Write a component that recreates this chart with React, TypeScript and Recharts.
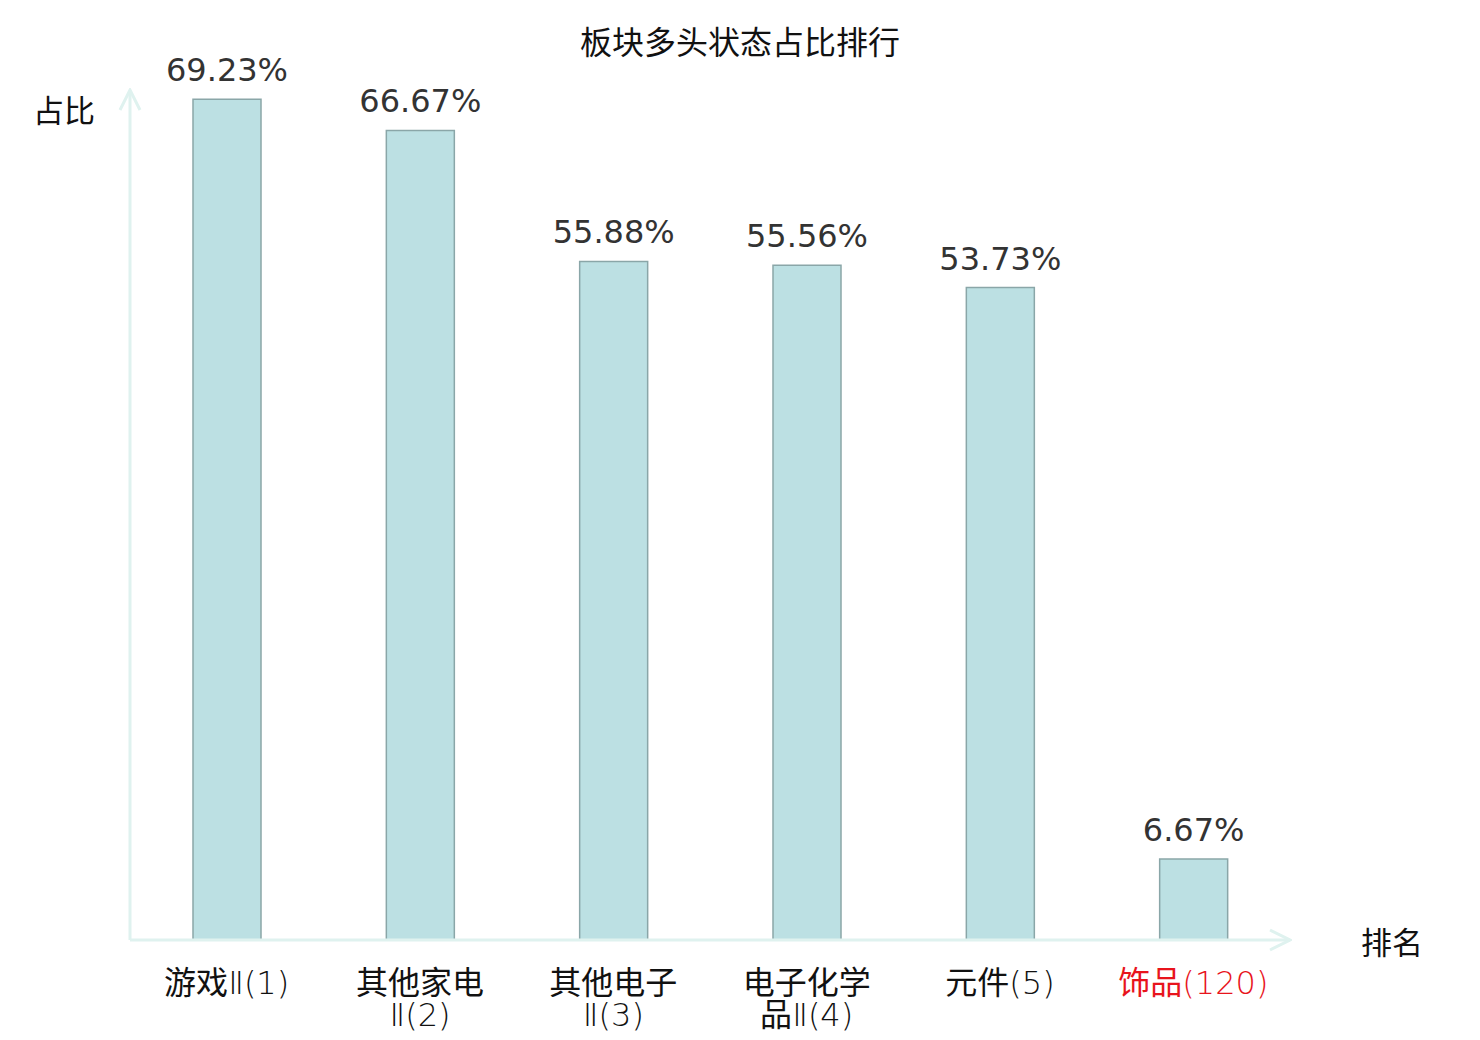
import React from 'react';
import { BarChart, Bar, XAxis, YAxis, LabelList } from 'recharts';

const categories = ['游戏Ⅱ(1)', '其他家电Ⅱ(2)', '其他电子Ⅱ(3)', '电子化学品Ⅱ(4)', '元件(5)', '饰品(120)'];
const tickLines = [['游戏Ⅱ(1)'], ['其他家电', 'Ⅱ(2)'], ['其他电子', 'Ⅱ(3)'], ['电子化学', '品Ⅱ(4)'], ['元件(5)'], ['饰品(120)']];
const shares = [69.23, 66.67, 55.88, 55.56, 53.73, 6.67];
const highlighted = '饰品(120)';

const data = categories.map((name, i) => ({ name, share: shares[i] }));

const cjk = '"Noto Sans CJK SC", "DejaVu Sans", sans-serif';
const latinLight = '"DejaVu Sans", "Noto Sans CJK SC", sans-serif';
const axisColor = '#dff2ef';

// split a label into runs so Chinese stays regular and the rest uses the thin latin face
function splitRuns(text: string) {
  const runs: { t: string; han: boolean }[] = [];
  for (const ch of text) {
    const han = /[\u4e00-\u9fff]/.test(ch);
    const last = runs[runs.length - 1];
    if (last && last.han === han) last.t += ch;
    else runs.push({ t: ch, han });
  }
  return runs;
}

function RankTick(props: any) {
  const { x, y, payload, index } = props;
  const lines = tickLines[index] ?? [payload.value];
  const color = payload.value === highlighted ? '#e8141c' : '#111';
  return (
    <g transform={`translate(${x},${y})`}>
      {lines.map((line: string, i: number) => (
        <text key={i} x={0} y={i * 32} dy={46} textAnchor="middle" fill={color} fontSize={32}>
          {splitRuns(line).map((r, j) => (
            <tspan key={j} fontFamily={r.han ? cjk : latinLight} fontWeight={r.han ? 400 : 200}>
              {r.t}
            </tspan>
          ))}
        </text>
      ))}
    </g>
  );
}

export default function App() {
  return (
    <div style={{ position: 'absolute', left: 0, top: 0, width: 1480, height: 1040, background: '#fff' }}>
      <BarChart width={1480} height={1040} data={data} margin={{ top: 90, right: 190, left: 70, bottom: 30 }}>
        <defs>
          <marker id="arrowHead" viewBox="0 0 24 24" refX="22" refY="12" markerWidth="24" markerHeight="24" markerUnits="userSpaceOnUse" orient="auto-start-reverse">
            <path d="M2 2 L22 12 L2 22" fill="none" stroke={axisColor} strokeWidth={3} />
          </marker>
        </defs>
        <text x={740} y={54} textAnchor="middle" fontSize={32} fontFamily={cjk} fill="#111">板块多头状态占比排行</text>
        <text x={33} y={122} fontSize={31} fontFamily={cjk} fill="#111">占比</text>
        <text x={1361} y={954} fontSize={31} fontFamily={cjk} fill="#111">排名</text>
        <XAxis
          dataKey="name"
          height={70}
          axisLine={{ stroke: axisColor, strokeWidth: 3, markerEnd: 'url(#arrowHead)' }}
          tickLine={false}
          tick={<RankTick />}
          interval={0}
        />
        <YAxis
          width={60}
          domain={[0, 70]}
          axisLine={{ stroke: axisColor, strokeWidth: 3, markerStart: 'url(#arrowHead)' }}
          tickLine={false}
          tick={false}
        />
        <Bar dataKey="share" barSize={68} fill="#bce0e3" stroke="#8aa6a8" strokeWidth={1.5} isAnimationActive={false}>
          <LabelList
            dataKey="share"
            position="top"
            offset={18}
            formatter={(v: any) => `${Number(v).toFixed(2)}%`}
            fill="#333"
            fontSize={32}
            fontFamily='"DejaVu Sans", sans-serif'
          />
        </Bar>
      </BarChart>
    </div>
  );
}
